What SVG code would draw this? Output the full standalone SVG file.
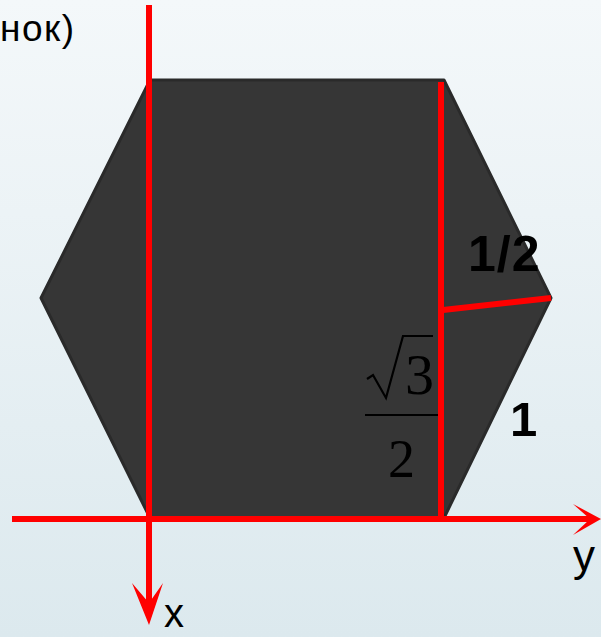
<svg xmlns="http://www.w3.org/2000/svg" width="601" height="637" viewBox="0 0 601 637">
<defs>
<linearGradient id="bg" x1="0" y1="0" x2="0" y2="1">
<stop offset="0" stop-color="#f4f8fa"/>
<stop offset="1" stop-color="#dce9ee"/>
</linearGradient>
<style>
.ax{stroke:#ff0000;stroke-width:6;fill:none}
.head{fill:#ff0000}
.lbl{font-family:"Liberation Sans",Arial,sans-serif;fill:#000}
.math{font-family:"Liberation Serif","Times New Roman",serif;fill:#000}
</style>
</defs>
<rect width="601" height="637" fill="url(#bg)"/>
<text class="lbl" x="0" y="41" font-size="37" letter-spacing="1.5">нок)</text>
<g id="hexagon">
<polygon points="150,80 444,80 551,298 444,518 150,518 41,298" fill="#363636" stroke="#2a2a2a" stroke-width="3" stroke-linejoin="round"/>
</g>
<g id="connectors">
<line class="ax" x1="149" y1="5" x2="149" y2="612"/>
<path class="head" d="M149,625 L132,583 L149,603 L163,583 Z"/>
<line class="ax" x1="12" y1="519" x2="590" y2="519"/>
<path class="head" d="M601,519 L573,504 L590,519 L573,535 Z"/>
<line class="ax" x1="441" y1="82" x2="441" y2="518"/>
<line class="ax" x1="443" y1="310" x2="551" y2="298"/>
</g>
<g id="labels">
<text class="lbl" x="468" y="271" font-size="50" font-weight="bold" letter-spacing="1">1/2</text>
<text class="lbl" x="510" y="436" font-size="49" font-weight="bold">1</text>
<path d="M367,379 L373,375 L386,398 L403,336 L433,336" fill="none" stroke="#000" stroke-width="2.2" stroke-linejoin="miter"/>
<text class="math" x="405" y="394" font-size="58">3</text>
<line x1="365" y1="415" x2="438" y2="415" stroke="#000" stroke-width="2"/>
<text class="math" x="388" y="477" font-size="54">2</text>
<text class="lbl" x="164" y="627" font-size="40">x</text>
<text class="lbl" x="573" y="571" font-size="44">y</text>
</g>
</svg>
